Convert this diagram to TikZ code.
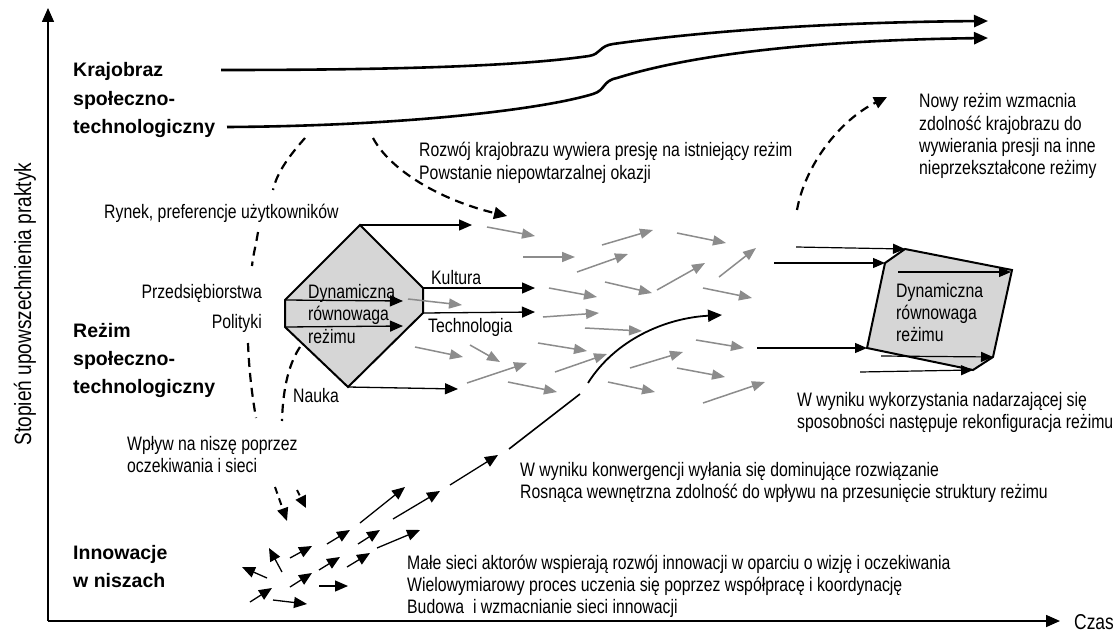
\documentclass[tikz,border=0pt]{standalone}
\usepackage{fontspec}
\setmainfont{Liberation Sans}
\newfontfamily\narrowfont{Liberation Sans}[FakeStretch=0.81]
\usetikzlibrary{arrows.meta}
\definecolor{grayarrow}{HTML}{8C8C8C}
\definecolor{boxfill}{HTML}{D6D6D6}
\begin{document}
\begin{tikzpicture}[x=1pt,y=-1pt,
  txt/.style={font=\narrowfont\fontsize{19.5}{22}\selectfont, inner sep=0pt, anchor=base west},
  boldlbl/.style={font=\bfseries\fontsize{19.5}{28.5}\selectfont, inner sep=0pt, anchor=base west},
  blk/.style={-{Triangle[length=13pt,width=11pt]}, line width=1.3pt},
  thinblk/.style={-{Triangle[length=12pt,width=10pt]}, line width=1.2pt},
  gry/.style={-{Triangle[length=13pt,width=10pt]}, line width=1.5pt, draw=grayarrow, color=grayarrow},
  dsh/.style={line width=2.2pt, dash pattern=on 9pt off 6pt},
  land/.style={line width=2.6pt, -{Triangle[length=14pt,width=12pt]}},
  axis/.style={line width=1.6pt, -{Triangle[length=14pt,width=12pt]}},
]
\fill[white] (0,0) rectangle (1118,642);
\useasboundingbox (0,0) rectangle (1118,642);

% axes
\coordinate (O) at (48,621);
\coordinate (Ytop) at (48,8);
\coordinate (Xend) at (1060,621);
\draw[axis] (O) -- (Ytop);
\draw[axis] (O) -- (Xend);
\node[font=\narrowfont\fontsize{23.5}{26}\selectfont, rotate=90, inner sep=0pt] (ylab) at (25,304) {Stopień upowszechnienia praktyk};
\node[txt, font=\narrowfont\fontsize{21.5}{24}\selectfont] (czas) at (1074,629) {Czas};

% landscape lines
\draw[land] (221,70) .. controls (400,70) and (520,66) .. (589,56)
   .. controls (601,54) and (599,46) .. (613,44)
   .. controls (720,29) and (850,22) .. (988,21);
\draw[land] (227,127) .. controls (400,126) and (540,110) .. (593,94)
   .. controls (606,90) and (602,81) .. (617,78)
   .. controls (700,52) and (830,40) .. (988,38);

% bold labels
\node[boldlbl] (kraj1) at (73,76) {Krajobraz};
\node[boldlbl] (kraj2) at (73,105) {społeczno-};
\node[boldlbl] (kraj3) at (73,133) {technologiczny};
\node[boldlbl] (rez1) at (73,337) {Reżim};
\node[boldlbl] (rez2) at (73,365) {społeczno-};
\node[boldlbl] (rez3) at (73,393) {technologiczny};
\node[boldlbl] (inn1) at (73,559) {Innowacje};
\node[boldlbl] (inn2) at (73,587) {w niszach};

% dashed curves
\draw[dsh] (305,138) .. controls (290,155) and (277,172) .. (273,190);
\draw[dsh] (258,232) .. controls (256,245) and (253,255) .. (252,266);
\draw[dsh] (248,343) .. controls (249,370) and (252,395) .. (256,418);
\draw[dsh] (300,347) .. controls (290,362) and (283,385) .. (282,421);
\draw[dsh, -{Triangle[length=13pt,width=12pt]}] (373,138) .. controls (390,170) and (440,200) .. (507,216);
\draw[dsh, -{Triangle[length=13pt,width=12pt]}] (797,210) .. controls (805,165) and (840,120) .. (887,97);
\draw[line width=2pt, dash pattern=on 7pt off 5pt, -{Triangle[length=13pt,width=11pt]}] (275,487) -- (287,521);
\draw[line width=2pt, dash pattern=on 6pt off 4pt, -{Triangle[length=12pt,width=11pt]}] (297,490) -- (306,508);

% left octagon
\coordinate (oT) at (360,225);
\coordinate (oRU) at (423,288);
\coordinate (oRL) at (423,313);
\coordinate (oB) at (348,387);
\coordinate (oLL) at (285,327);
\coordinate (oLU) at (285,300);
\filldraw[fill=boxfill, line width=2pt] (oT) -- (oRU) -- (oRL) -- (oB) -- (oLL) -- (oLU) -- cycle;
\coordinate (tT) at (472,225);
\coordinate (tK) at (535,288);
\coordinate (tTe) at (535,312);
\coordinate (tB) at (458,389);
\coordinate (tI1) at (403,301);
\coordinate (tI2) at (403,326);
\draw[blk] (oT) -- (tT);
\draw[blk] (oRU) -- (tK);
\draw[blk] (oRL) -- (tTe);
\draw[blk] (oB) -- (tB);
\draw[blk] (oLU) -- (tI1);
\draw[blk] (oLL) -- (tI2);

% gray arrows
\foreach \a/\b/\c/\d in {487/227/535/236, 523/257/575/257, 577/272/628/254, 549/288/597/297,
  543/317/599/313, 585/328/642/331, 538/343/587/351, 555/372/607/354, 508/382/557/392,
  467/383/527/363, 470/345/500/362, 415/347/463/357, 408/299/462/305,
  602/245/653/230, 677/233/726/243, 605/282/652/293, 657/290/705/263, 719/277/756/248,
  703/288/752/298, 630/368/683/352, 696/340/744/348, 677/368/725/377, 608/382/655/392,
  703/403/765/382}
  \draw[gry] (\a,\b) -- (\c,\d);

% niche arrows
\foreach \a/\b/\c/\d in {250/602/272/588, 273/600/307/604, 267/578/242/567, 282/572/269/548,
  290/587/312/573, 290/558/312/546, 319/586/348/586, 319/570/340/557, 327/544/350/530,
  347/567/370/553, 358/544/380/530, 377/548/420/530, 360/523/405/487, 393/519/440/491,
  450/485/498/455}
  \draw[blk] (\a,\b) -- (\c,\d);
\coordinate (c1) at (509,449);
\coordinate (c2) at (580,394);
\coordinate (c3) at (588,383);
\coordinate (c4) at (722,315);
\draw[line width=1.6pt] (c1) -- (c2);
\draw[line width=1.8pt, -{Triangle[length=14pt,width=12pt]}] (c3) .. controls (615,340) and (665,318) .. (c4);

% right box
\coordinate (r1) at (885,263);
\coordinate (r2) at (905,249);
\coordinate (r3) at (1012,270);
\coordinate (r4) at (993,357);
\coordinate (r5) at (973,370);
\coordinate (r6) at (867,348);
\filldraw[fill=boxfill, line width=2pt] (r1) -- (r2) -- (r3) -- (r4) -- (r5) -- (r6) -- cycle;
\draw[thinblk] (796,247) -- (r2);
\draw[thinblk] (774,263) -- (r1);
\draw[thinblk] (898,272) -- (1011,272);
\draw[thinblk] (757,348) -- (r6);
\draw[thinblk] (881,356) -- (r4);
\draw[thinblk] (860,372) -- (r5);

% texts
\node[txt] (rynek) at (104,218) {Rynek, preferencje użytkowników};
\node[txt] (roz1) at (419,156) {Rozwój krajobrazu wywiera presję na istniejący reżim};
\node[txt] (roz2) at (419,179) {Powstanie niepowtarzalnej okazji};
\node[txt] (nowy1) at (919,107) {Nowy reżim wzmacnia};
\node[txt] (nowy2) at (919,130) {zdolność krajobrazu do};
\node[txt] (nowy3) at (919,152) {wywierania presji na inne};
\node[txt] (nowy4) at (919,174) {nieprzekształcone reżimy};
\node[txt, anchor=base east] (przed) at (262,298) {Przedsiębiorstwa};
\node[txt, anchor=base east] (polit) at (262,328) {Polityki};
\node[txt] (kult) at (431,284) {Kultura};
\node[txt] (tech) at (428,332) {Technologia};
\node[txt] (dynA1) at (308,298) {Dynamiczna};
\node[txt] (dynA2) at (308,320.5) {równowaga};
\node[txt] (dynA3) at (308,343) {reżimu};
\node[txt] (nauka) at (293,402) {Nauka};
\node[txt] (wplyw1) at (127,450) {Wpływ na niszę poprzez};
\node[txt] (wplyw2) at (127,472) {oczekiwania i sieci};
\node[txt] (konw1) at (520,476) {W wyniku konwergencji wyłania się dominujące rozwiązanie};
\node[txt] (konw2) at (520,498) {Rosnąca wewnętrzna zdolność do wpływu na przesunięcie struktury reżimu};
\node[txt] (male1) at (407,569) {Małe sieci aktorów wspierają rozwój innowacji w oparciu o wizję i oczekiwania};
\node[txt] (male2) at (407,591) {Wielowymiarowy proces uczenia się poprzez współpracę i koordynację};
\node[txt] (male3) at (407,613) {Budowa\ \ i wzmacnianie sieci innowacji};
\node[txt] (wyk1) at (797,406) {W wyniku wykorzystania nadarzającej się};
\node[txt] (wyk2) at (797,428) {sposobności następuje rekonfiguracja reżimu};
\node[txt] (dynB1) at (896,297) {Dynamiczna};
\node[txt] (dynB2) at (896,319) {równowaga};
\node[txt] (dynB3) at (896,341) {reżimu};
\end{tikzpicture}
\end{document}
